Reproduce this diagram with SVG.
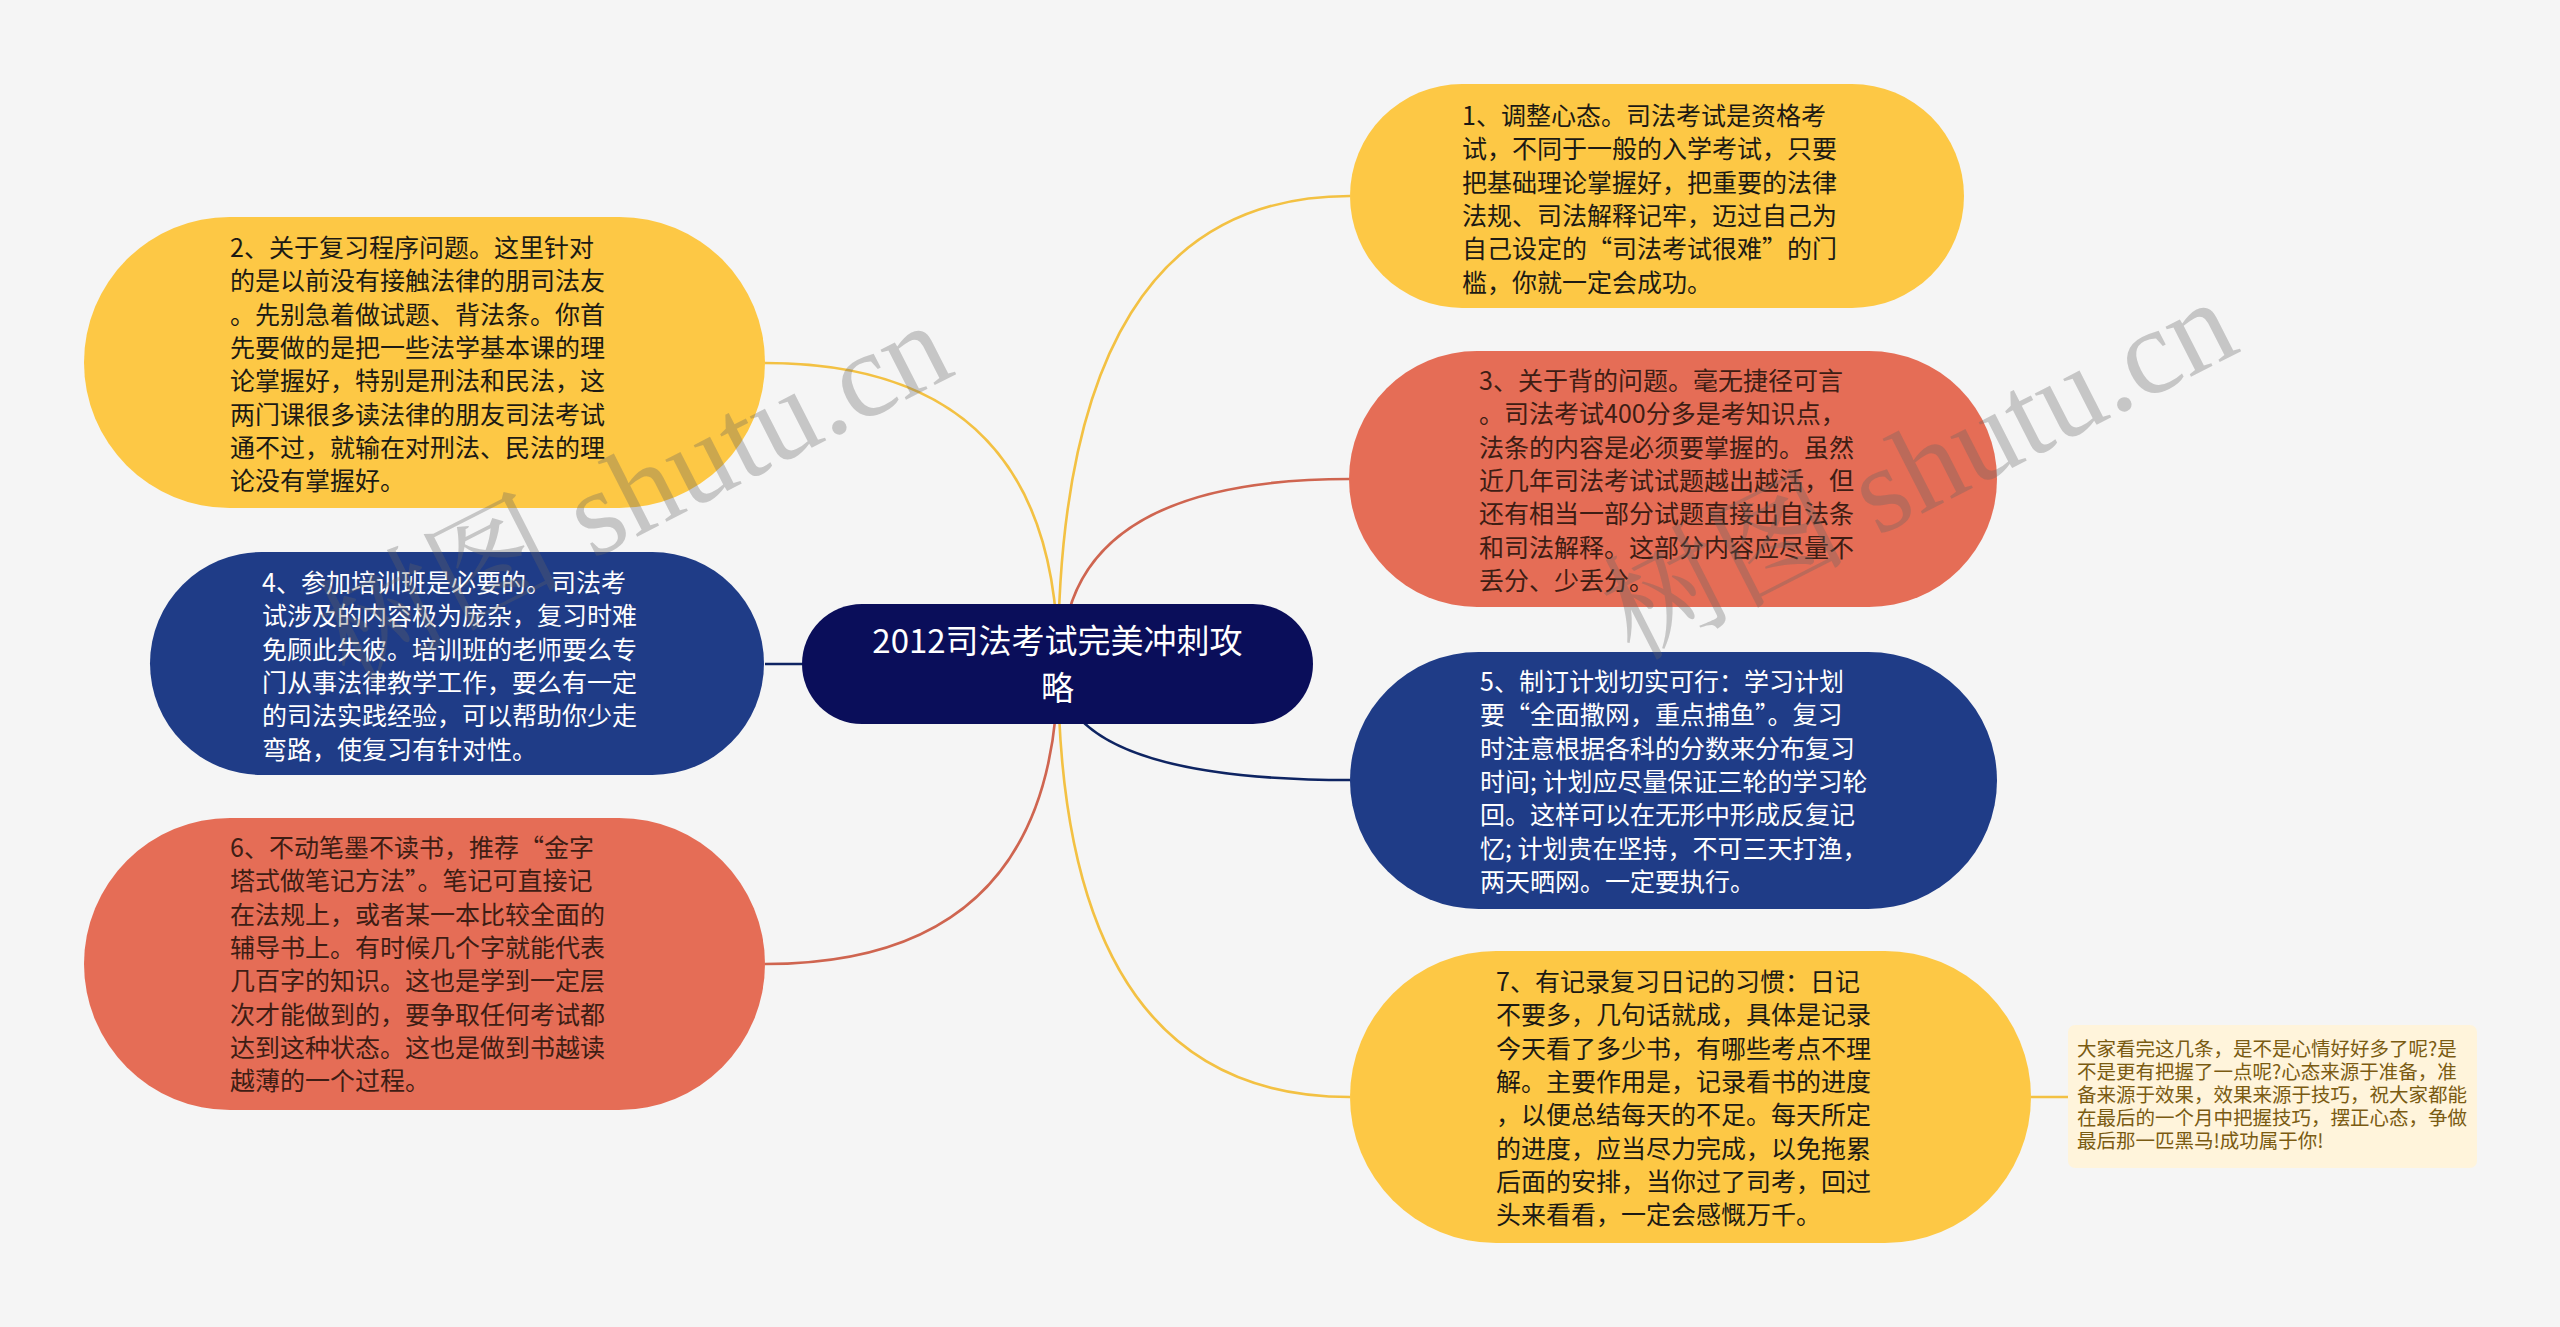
<svg xmlns="http://www.w3.org/2000/svg" width="2560" height="1327" viewBox="0 0 2560 1327">
<style>
.t{font-family:"Noto Sans CJK SC","Microsoft YaHei",sans-serif;font-size:25px}
.dk{fill:#1c1a14}
.rd{fill:#3e1d14}
.wh{fill:#ffffff}
.c{fill:none;stroke-width:2.6}
.cy{stroke:#F3C143}
.cr{stroke:#CF6550}
.cb{stroke:#0E2462}
.ny{fill:#FDC845}
.nr{fill:#E56D56}
.nb{fill:#1F3C87}
.wm{font-family:"Liberation Serif","Noto Serif CJK SC","Noto Sans CJK SC",serif;font-size:122px;fill:#646464;fill-opacity:0.32}
</style>
<rect x="0" y="0" width="2560" height="1327" fill="#F5F5F5"/>
<g id="connectors">
<path class="c cy" d="M1058 664 Q1058 196 1350 196"/>
<path class="c cy" d="M1058 664 Q1058 363 765 363"/>
<path class="c cr" d="M1062 664 Q1062 479 1350 479"/>
<path class="c cb" d="M1058 664 L765 664"/>
<path class="c cb" d="M1058 664 Q1058 780 1350 780"/>
<path class="c cr" d="M1058 664 Q1058 964 765 964"/>
<path class="c cy" d="M1058 664 Q1058 1097 1350 1097"/>
<path class="c cy" d="M2031 1097 L2068 1097"/>
</g>
<g id="center">
<rect x="802" y="604" width="511" height="120" rx="60" fill="#0A0E5A"/>
<text class="t wh" x="1057.5" y="653" text-anchor="middle" style="font-size:33px">2012司法考试完美冲刺攻</text>
<text class="t wh" x="1057.5" y="700" text-anchor="middle" style="font-size:33px">略</text>
</g>
<g id="node1">
<rect class="ny" x="1350" y="84" width="614" height="224" rx="112"/>
<text class="t dk" x="1462" y="125">
<tspan x="1462">1、调整心态。司法考试是资格考</tspan>
<tspan x="1462" dy="33.3">试，不同于一般的入学考试，只要</tspan>
<tspan x="1462" dy="33.3">把基础理论掌握好，把重要的法律</tspan>
<tspan x="1462" dy="33.3">法规、司法解释记牢，迈过自己为</tspan>
<tspan x="1462" dy="33.3">自己设定的“司法考试很难”的门</tspan>
<tspan x="1462" dy="33.3">槛，你就一定会成功。</tspan>
</text>
</g>
<g id="node2">
<rect class="ny" x="84" y="217" width="681" height="291" rx="145.5"/>
<text class="t dk" x="230" y="257">
<tspan x="230">2、关于复习程序问题。这里针对</tspan>
<tspan x="230" dy="33.3">的是以前没有接触法律的朋司法友</tspan>
<tspan x="230" dy="33.3">。先别急着做试题、背法条。你首</tspan>
<tspan x="230" dy="33.3">先要做的是把一些法学基本课的理</tspan>
<tspan x="230" dy="33.3">论掌握好，特别是刑法和民法，这</tspan>
<tspan x="230" dy="33.3">两门课很多读法律的朋友司法考试</tspan>
<tspan x="230" dy="33.3">通不过，就输在对刑法、民法的理</tspan>
<tspan x="230" dy="33.3">论没有掌握好。</tspan>
</text>
</g>
<g id="node3">
<rect class="nr" x="1349" y="351" width="648" height="256" rx="128"/>
<text class="t rd" x="1479" y="390">
<tspan x="1479">3、关于背的问题。毫无捷径可言</tspan>
<tspan x="1479" dy="33.3">。司法考试400分多是考知识点，</tspan>
<tspan x="1479" dy="33.3">法条的内容是必须要掌握的。虽然</tspan>
<tspan x="1479" dy="33.3">近几年司法考试试题越出越活，但</tspan>
<tspan x="1479" dy="33.3">还有相当一部分试题直接出自法条</tspan>
<tspan x="1479" dy="33.3">和司法解释。这部分内容应尽量不</tspan>
<tspan x="1479" dy="33.3">丢分、少丢分。</tspan>
</text>
</g>
<g id="node4">
<rect class="nb" x="150" y="552" width="614" height="223" rx="111.5"/>
<text class="t wh" x="262" y="592">
<tspan x="262">4、参加培训班是必要的。司法考</tspan>
<tspan x="262" dy="33.3">试涉及的内容极为庞杂，复习时难</tspan>
<tspan x="262" dy="33.3">免顾此失彼。培训班的老师要么专</tspan>
<tspan x="262" dy="33.3">门从事法律教学工作，要么有一定</tspan>
<tspan x="262" dy="33.3">的司法实践经验，可以帮助你少走</tspan>
<tspan x="262" dy="33.3">弯路，使复习有针对性。</tspan>
</text>
</g>
<g id="node5">
<rect class="nb" x="1350" y="652" width="647" height="257" rx="128.5"/>
<text class="t wh" x="1480" y="691">
<tspan x="1480">5、制订计划切实可行：学习计划</tspan>
<tspan x="1480" dy="33.3">要“全面撒网，重点捕鱼”。复习</tspan>
<tspan x="1480" dy="33.3">时注意根据各科的分数来分布复习</tspan>
<tspan x="1480" dy="33.3">时间; 计划应尽量保证三轮的学习轮</tspan>
<tspan x="1480" dy="33.3">回。这样可以在无形中形成反复记</tspan>
<tspan x="1480" dy="33.3">忆; 计划贵在坚持，不可三天打渔，</tspan>
<tspan x="1480" dy="33.3">两天晒网。一定要执行。</tspan>
</text>
</g>
<g id="node6">
<rect class="nr" x="84" y="818" width="681" height="292" rx="146"/>
<text class="t rd" x="230" y="857">
<tspan x="230">6、不动笔墨不读书，推荐“金字</tspan>
<tspan x="230" dy="33.3">塔式做笔记方法”。笔记可直接记</tspan>
<tspan x="230" dy="33.3">在法规上，或者某一本比较全面的</tspan>
<tspan x="230" dy="33.3">辅导书上。有时候几个字就能代表</tspan>
<tspan x="230" dy="33.3">几百字的知识。这也是学到一定层</tspan>
<tspan x="230" dy="33.3">次才能做到的，要争取任何考试都</tspan>
<tspan x="230" dy="33.3">达到这种状态。这也是做到书越读</tspan>
<tspan x="230" dy="33.3">越薄的一个过程。</tspan>
</text>
</g>
<g id="node7">
<rect class="ny" x="1350" y="951" width="681" height="292" rx="146"/>
<text class="t dk" x="1496" y="991">
<tspan x="1496">7、有记录复习日记的习惯：日记</tspan>
<tspan x="1496" dy="33.3">不要多，几句话就成，具体是记录</tspan>
<tspan x="1496" dy="33.3">今天看了多少书，有哪些考点不理</tspan>
<tspan x="1496" dy="33.3">解。主要作用是，记录看书的进度</tspan>
<tspan x="1496" dy="33.3">，以便总结每天的不足。每天所定</tspan>
<tspan x="1496" dy="33.3">的进度，应当尽力完成，以免拖累</tspan>
<tspan x="1496" dy="33.3">后面的安排，当你过了司考，回过</tspan>
<tspan x="1496" dy="33.3">头来看看，一定会感慨万千。</tspan>
</text>
</g>
<g id="note">
<rect x="2068" y="1025" width="409" height="143" rx="7" fill="#FFF4DB"/>
<text class="t" x="2077" y="1056" style="font-size:19.5px;fill:#7A5B12">
<tspan x="2077">大家看完这几条，是不是心情好好多了呢?是</tspan>
<tspan x="2077" dy="23">不是更有把握了一点呢?心态来源于准备，准</tspan>
<tspan x="2077" dy="23">备来源于效果，效果来源于技巧，祝大家都能</tspan>
<tspan x="2077" dy="23">在最后的一个月中把握技巧，摆正心态，争做</tspan>
<tspan x="2077" dy="23">最后那一匹黑马!成功属于你!</tspan>
</text>
</g>
<g id="watermark">
<text class="wm" transform="translate(1633 661) rotate(-27)">树图 shutu.cn</text>
<text class="wm" transform="translate(348 684) rotate(-27)">树图 shutu.cn</text>
</g>
</svg>
